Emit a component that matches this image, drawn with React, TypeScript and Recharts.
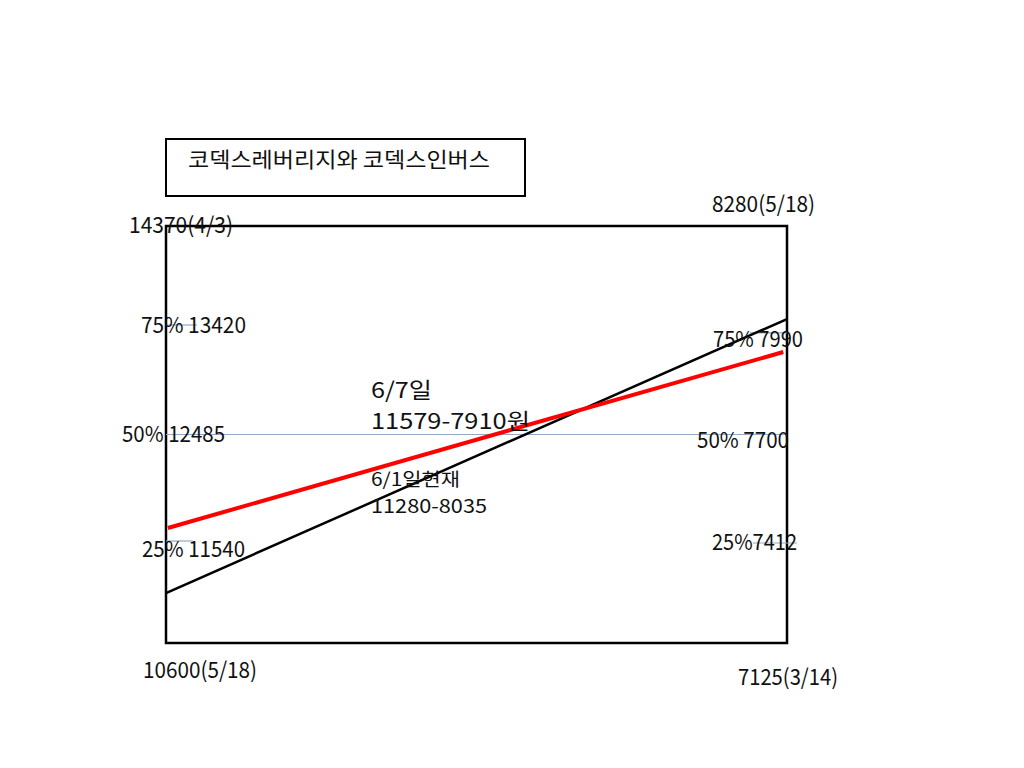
import { LineChart, Line, XAxis, YAxis, ReferenceLine, ReferenceArea } from "recharts";

// left scale (price of KODEX leverage), plot spans 10600 .. 14370
const yMin = 10600;
const yMax = 14370;

// 6/1 current (black) and 6/7 (red) in left-scale units
const currentX = [0, 1];
const currentValues = [11052, 13529];
const forecastX = [0.003, 0.994];
const forecastValues = [11640, 13231];

// thin blue guide lines (quartiles)
const guideY = [13475, 12485, 11522, 13403, 11504];
const guideX1 = [0, 0, 0, 0.94, 0.945];
const guideX2 = [0.05, 1, 0.043, 1, 1.016];

const title = "코덱스레버리지와 코덱스인버스";
const leftLabels = ["14370(4/3)", "75% 13420", "50% 12485", "25% 11540", "10600(5/18)"];
const rightLabels = ["8280(5/18)", "75% 7990", "50% 7700", "25%7412", "7125(3/14)"];
const noteForecast = ["6/7일", "11579-7910원"];
const noteCurrent = ["6/1일현재", "11280-8035"];

const currentData = currentX.map((x, i) => ({ x, v: currentValues[i] }));
const forecastData = forecastX.map((x, i) => ({ x, v: forecastValues[i] }));

const font = "'Noto Sans CJK KR', 'Noto Sans', sans-serif";

// text placement: [x, baseline, width]
const leftPos = [
  [129, 233, 104],
  [141, 333, 105],
  [122, 442, 103],
  [142, 557, 103],
  [143, 678, 114],
];
const rightPos = [
  [712, 212, 103],
  [713, 347, 90],
  [697, 448, 92],
  [712, 550, 85],
  [738, 685, 100],
];

function T({ x, y, w, size, children }: { x: number; y: number; w: number; size: number; children: string }) {
  return (
    <text x={x} y={y} fontSize={size} fontFamily={font} fill="#111" textLength={w} lengthAdjust="spacingAndGlyphs">
      {children}
    </text>
  );
}

export default function App() {
  return (
    <div style={{ position: "absolute", left: 0, top: 0, width: 1024, height: 768, background: "#fff" }}>
      <LineChart width={1024} height={768} margin={{ top: 226, right: 237, bottom: 125, left: 166 }}>
        <XAxis type="number" dataKey="x" domain={[0, 1]} hide allowDataOverflow />
        <YAxis type="number" domain={[yMin, yMax]} hide allowDataOverflow />
        {guideY.map((y, i) => (
          <ReferenceLine
            key={i}
            segment={[
              { x: guideX1[i], y },
              { x: guideX2[i], y },
            ]}
            stroke="#93a9c6"
            strokeWidth={1.2}
            ifOverflow="visible"
          />
        ))}
        <ReferenceArea x1={0} x2={1} y1={yMin} y2={yMax} fill="none" fillOpacity={0} stroke="#000" strokeWidth={2.5} ifOverflow="visible" />
        <Line data={currentData} dataKey="v" type="linear" stroke="#000" strokeWidth={2.5} dot={false} isAnimationActive={false} />
        <Line data={forecastData} dataKey="v" type="linear" stroke="#ff0000" strokeWidth={4} dot={false} isAnimationActive={false} />
      </LineChart>
      <svg width={1024} height={768} style={{ position: "absolute", left: 0, top: 0, pointerEvents: "none" }}>
        <rect x={166} y={139} width={359} height={57} fill="none" stroke="#000" strokeWidth={2} />
        <T x={188} y={167} w={302} size={21}>{title}</T>
        {leftLabels.map((s, i) => (
          <T key={s} x={leftPos[i][0]} y={leftPos[i][1]} w={leftPos[i][2]} size={22}>{s}</T>
        ))}
        {rightLabels.map((s, i) => (
          <T key={s} x={rightPos[i][0]} y={rightPos[i][1]} w={rightPos[i][2]} size={22}>{s}</T>
        ))}
        <T x={371} y={398} w={61} size={22}>{noteForecast[0]}</T>
        <T x={371} y={429} w={159} size={22}>{noteForecast[1]}</T>
        <T x={371} y={486} w={89} size={18}>{noteCurrent[0]}</T>
        <T x={371} y={513} w={116} size={19}>{noteCurrent[1]}</T>
      </svg>
    </div>
  );
}
